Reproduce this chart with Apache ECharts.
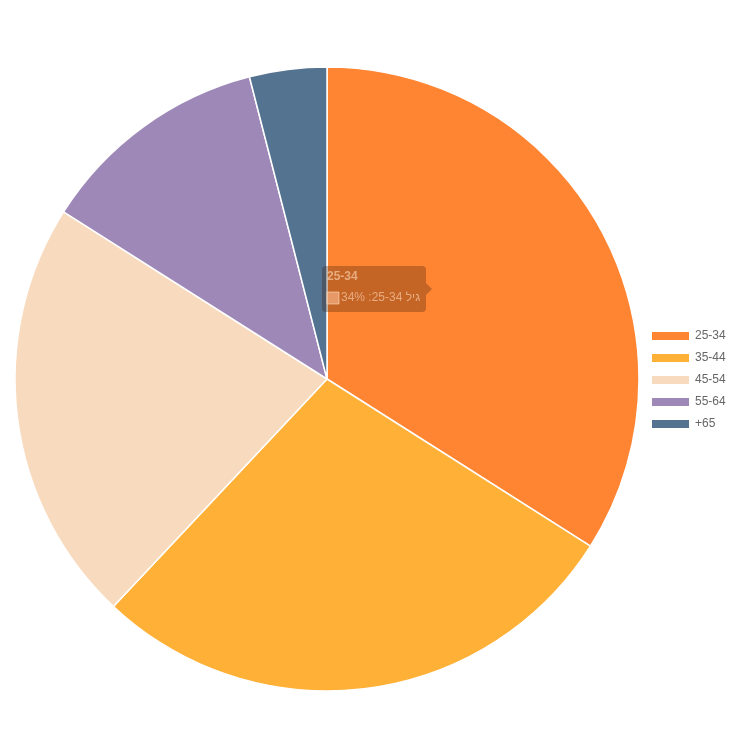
<!DOCTYPE html>
<html><head><meta charset="utf-8">
<style>html,body{margin:0;padding:0;background:#fff}#c{width:745px;height:735px}</style>
<script src="https://cdn.jsdelivr.net/npm/echarts@6/dist/echarts.min.js"></script>
</head><body><div id="c"></div>
<script>
const categories = ['25-34', '35-44', '45-54', '55-64', '+65'];
const values = [34, 28, 22, 12, 4];
const colors = ['#FF8533', '#FFB037', '#F8DBBE', '#9E88B8', '#547391'];
const tooltipPrefix = 'גיל ';

const chart = echarts.init(document.getElementById('c'), null, {renderer: 'canvas'});
const font = 'Liberation Sans, Arial, Helvetica, sans-serif';
const tipLine = '\u202B' + tooltipPrefix + categories[0] + ': ' + values[0] + '%\u202C';
const tipBg = 'rgba(60,25,5,0.3)';
const tipFg = 'rgba(255,220,190,0.6)';
chart.setOption({
  animation: false,
  textStyle: {fontFamily: font},
  legend: {
    orient: 'vertical', left: 645, top: 325,
    itemWidth: 39, itemHeight: 10, itemGap: 10, itemTextGap: 8, icon: 'rect',
    textStyle: {fontSize: 12, color: '#666', fontFamily: font},
    data: categories
  },
  series: [{
    type: 'pie',
    center: [327, 379], radius: 312,
    startAngle: 90, clockwise: true,
    label: {show: false}, labelLine: {show: false},
    emphasis: {disabled: true},
    itemStyle: {borderColor: '#fff', borderWidth: 1.5},
    data: categories.map((c, i) => ({name: c, value: values[i], itemStyle: {color: colors[i]}}))
  }],
  graphic: [
    {type: 'rect', z: 100, shape: {x: 322, y: 266, width: 104, height: 46, r: 4}, style: {fill: tipBg}},
    {type: 'polygon', z: 100, shape: {points: [[426, 283], [432, 289], [426, 295]]}, style: {fill: tipBg}},
    {type: 'text', z: 101, style: {x: 327, y: 277, text: categories[0], fill: tipFg, font: 'bold 12px ' + font, verticalAlign: 'middle'}},
    {type: 'rect', z: 101, shape: {x: 327, y: 292, width: 12, height: 12}, style: {fill: 'rgba(255,190,150,0.6)', stroke: tipFg, lineWidth: 1}},
    {type: 'text', z: 101, style: {x: 341, y: 298, text: tipLine, fill: tipFg, font: '12px ' + font, verticalAlign: 'middle'}}
  ]
});
</script></body></html>
